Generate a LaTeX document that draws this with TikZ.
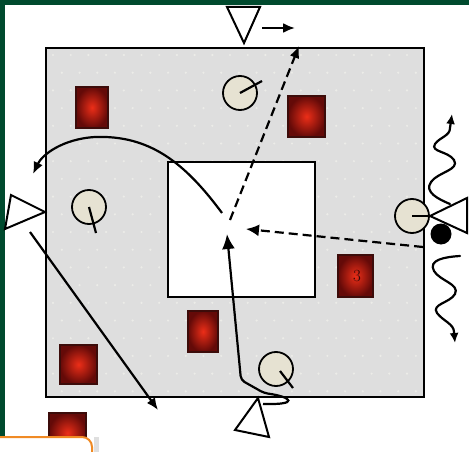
\documentclass[tikz,border=0pt]{standalone}
\usetikzlibrary{arrows.meta}
\definecolor{bgreen}{RGB}{0,74,46}
\definecolor{panel}{RGB}{222,222,222}
\definecolor{dotc}{RGB}{236,236,232}
\definecolor{beige}{RGB}{230,226,210}
\definecolor{redin}{RGB}{236,46,24}
\definecolor{redout}{RGB}{100,10,8}
\definecolor{redline}{RGB}{60,12,10}
\definecolor{digit}{RGB}{50,8,6}
\definecolor{orangec}{RGB}{240,138,36}
\begin{document}
\begin{tikzpicture}[x=1pt,y=-1pt,
  redbox/.style={draw=redline, line width=1.2pt, inner color=redin, outer color=redout, inner sep=0pt, minimum width=#1},
  ball/.style={circle, draw=black, line width=1.8pt, fill=beige, minimum size=34pt, inner sep=0pt},
  tri/.style={draw=black, line width=2pt, fill=white, line join=miter},
  link/.style={draw=black, line width=2.2pt},
  arr/.style={link, -{Latex[length=12pt,width=10pt]}},
  bigarr/.style={link, -{Latex[length=15pt,width=13pt]}},
  dsh/.style={link, dash pattern=on 9pt off 5pt},
  wave/.style={link, line cap=round, -{Latex[length=10pt,width=9pt]}}
]
\useasboundingbox (0,0) rectangle (469,452);
\fill[white] (0,0) rectangle (469,452);
% frame bars
\fill[bgreen] (0,0) rectangle (469,5);
\fill[bgreen] (0,0) rectangle (5,436);
% panel
\fill[panel] (46,48) rectangle (424,397);
\begin{scope}
\clip (46,48) rectangle (424,397);
\foreach \j in {0,...,20} {
  \foreach \i in {0,...,22} {
    \pgfmathsetmacro{\xx}{53+\i*17.7+mod(\j,2)*8.85}
    \pgfmathsetmacro{\yy}{55+\j*17.7}
    \fill[dotc] (\xx,\yy) circle (1.2pt);
  }
}
\end{scope}
\draw[line width=2.2pt] (46,48) rectangle (424,397);
% inner rectangle
\node[draw=black, line width=2pt, fill=white, minimum width=147pt, minimum height=135pt, inner sep=0pt] (core) at (241.5,229.5) {};
% red squares
\node[redbox=32pt, minimum height=41pt] (s1) at (92,107.5) {};
\node[redbox=37pt, minimum height=41pt] (s2) at (306.5,116.5) {};
\node[redbox=35pt, minimum height=42pt, text=digit] (s3) at (355.5,276) {\fontsize{17}{17}\selectfont\hspace{3pt}3};
\node[redbox=30pt, minimum height=41pt] (s4) at (203,331.5) {};
\node[redbox=37pt, minimum height=39pt] (s5) at (78.5,364.5) {};
\node[redbox=37pt, minimum height=40pt] (s6) at (67.5,433) {};
% balls
\node[ball] (c1) at (240,93) {};
\node[ball] (c2) at (89,207) {};
\node[ball] (c3) at (412,216) {};
\node[ball] (c4) at (276,369) {};
\coordinate (c1t) at (262,81);
\coordinate (c2t) at (96,233);
\coordinate (c3t) at (430,216);
\coordinate (c4t) at (293,388);
\draw[link] (c1.center) -- (c1t);
\draw[link] (c2.center) -- (c2t);
\draw[link] (c3.center) -- (c3t);
\draw[link] ([xshift=4pt,yshift=-2pt]c4.center) -- (c4t);
% black dot
\node[circle, fill=black, minimum size=21pt, inner sep=0pt] (dot) at (441,234) {};
% triangles
\draw[tri] (227,7) -- (260,7) -- (244,43) coordinate (ttop) -- cycle;
\draw[tri] (11,195) -- (45,212) coordinate (tleft) -- (5,229) -- cycle;
\draw[tri] (430,216) coordinate (tright) -- (467,198) -- (467,233) -- cycle;
\draw[tri] (258,398) coordinate (tbot) -- (269,437) -- (235,430) -- cycle;
% connectors
\coordinate (ta1) at (262,28);
\coordinate (ta2) at (295,28);
\draw[arr] (ta1) -- (ta2);
\coordinate (d1s) at (230,220);
\coordinate (d1e) at (299,46);
\draw[dsh, -{Latex[length=12pt,width=10pt]}] (d1s) -- (d1e);
\coordinate (d2s) at (423,247);
\coordinate (d2e) at (246,229);
\draw[dsh, -{Latex[length=13pt,width=12pt]}] (d2s) -- (d2e);
\coordinate (bs) at (263,404);
\coordinate (bk) at (241,380);
\coordinate (be) at (227,234);
\draw[bigarr, rounded corners=4pt] (bs) .. controls (300,405) and (292,397) .. (264,393) -- (bk) -- (be);
\coordinate (cs) at (222,213);
\coordinate (ctop) at (95,137);
\coordinate (ce) at (33,174);
\draw[arr] (cs) .. controls (185,163) and (150,135) .. (ctop) .. controls (62,139) and (42,155) .. (ce);
\coordinate (ls) at (30,232);
\coordinate (le) at (158,410);
\draw[arr] (ls) -- (le);
% waves
\coordinate (w1s) at (450,204);
\coordinate (w1e) at (452,114);
\draw[wave] (w1s) .. controls (438,199) and (424,192) .. (431,182)
  .. controls (438,172) and (460,170) .. (454,160)
  .. controls (448,151) and (430,152) .. (435,144)
  .. controls (440,137) and (450,136) .. (450,128) -- (w1e);
\coordinate (w2s) at (460,256);
\coordinate (w2e) at (455,343);
\draw[wave] (w2s) .. controls (444,257) and (428,260) .. (434,271)
  .. controls (440,281) and (460,284) .. (455,294)
  .. controls (450,303) and (431,304) .. (437,313)
  .. controls (443,321) and (454,324) .. (454,332) -- (w2e);
% orange box
\fill[gray!25] (94,437) rectangle (99,452);
\draw[orangec, line width=2pt, fill=white] (-2,437) -- (82,437) arc[start angle=90, end angle=0, radius=10pt] -- (92,454) -- (-2,454) -- cycle;
\end{tikzpicture}
\end{document}
